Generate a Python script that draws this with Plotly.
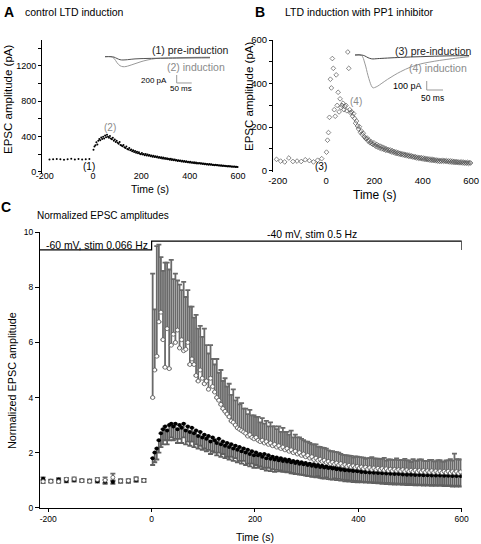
import plotly.graph_objects as go

# ---------------- data ----------------
# Panel A: control LTD induction (EPSC amplitude, pA)
T_PRE_A = [-180, -165, -150, -135, -120, -105, -90, -75, -60, -45, -30, -15]
A_PRE = [138, 140, 144, 141, 136, 142, 146, 138, 143, 137, 141, 145]
T_POST = list(range(2, 600, 4))
A_POST = [
    250, 285, 300, 335, 310, 350, 372, 358, 388, 370,
    398, 378, 412, 392, 418, 398, 386, 404, 378, 368,
    384, 352, 366, 338, 352, 328, 318, 336, 304, 298,
    288, 302, 278, 268, 286, 258, 252, 270, 244, 252,
    232, 242, 224, 234, 214, 226, 208, 220, 204, 198,
    212, 194, 202, 188, 200, 184, 194, 180, 190, 176,
    184, 170, 180, 166, 176, 164, 172, 158, 168, 156,
    164, 150, 160, 148, 156, 144, 152, 140, 148, 136,
    146, 134, 140, 130, 138, 126, 134, 122, 130, 120,
    128, 116, 124, 114, 120, 110, 118, 106, 114, 104,
    112, 102, 108, 98, 106, 96, 104, 94, 100, 92,
    98, 90, 96, 86, 94, 84, 90, 82, 88, 80,
    86, 78, 84, 76, 80, 74, 78, 72, 76, 70,
    74, 68, 72, 66, 70, 64, 68, 62, 66, 60,
    64, 58, 62, 56, 60, 55, 58, 53, 56, 52,
]

# Panel B: LTD induction with PP1 inhibitor (pA)
T_PRE_B = [-205, -188, -171, -154, -137, -120, -103, -86, -69, -52, -35, -18]
B_PRE = [52, 44, 40, 58, 42, 44, 42, 50, 46, 40, 48, 55]
B_POST = [
    85, 140, 175, 245, 420, 380, 515, 470, 280, 250,
    440, 300, 360, 270, 330, 290, 300, 310, 280, 295,
    300, 275, 545, 470, 280, 265, 270, 250, 262, 240,
    218, 228, 205, 192, 202, 176, 182, 166, 172, 156,
    150, 146, 150, 136, 140, 128, 133, 124, 120, 128,
    118, 112, 120, 108, 115, 104, 112, 100, 108, 98,
    104, 94, 100, 92, 97, 90, 95, 86, 92, 84,
    88, 80, 86, 78, 83, 76, 80, 74, 78, 72,
    76, 70, 74, 68, 72, 66, 70, 64, 68, 63,
    66, 60, 64, 58, 62, 57, 61, 55, 60, 54,
    58, 52, 57, 51, 55, 50, 54, 48, 53, 47,
    52, 46, 50, 45, 49, 44, 48, 42, 47, 43,
    48, 43, 47, 42, 46, 41, 45, 40, 45, 39,
    44, 38, 43, 37, 42, 37, 41, 36, 40, 36,
    40, 35, 39, 34, 38, 34, 38, 33, 37, 35,
]

# Inset traces (ms, pA)
INSET_A_T = [0, 20, 30, 40, 50, 60, 70, 80, 100, 120, 140, 170, 200, 250, 300, 350]
INSET_A_PRE = [0, 0, -10, -45, -75, -82, -78, -70, -55, -48, -44, -40, -38, -34, -30, -27]
INSET_A_IND = [0, 0, -40, -150, -225, -250, -245, -225, -175, -125, -85, -45, -32, -22, -17, -13]
INSET_B_T = [0, 20, 30, 40, 50, 55, 60, 70, 80, 100, 120, 140, 170, 200, 230, 260, 300, 350]
INSET_B_PRE = [0, 0, -10, -30, -42, -44, -43, -40, -38, -34, -30, -27, -22, -19, -15, -12, -9, -6]
INSET_B_IND = [0, -5, -90, -230, -340, -365, -362, -345, -320, -270, -225, -185, -135, -100, -78, -60, -40, -18]
SCALE_A = dict(pA=200, ms=50, t0=239, y0=-657)
SCALE_B = dict(pA=100, ms=50, t0=220, y0=-389)

# Panel C: normalized EPSC amplitudes
T_PRE_C = [-210, -195, -180, -165, -150, -135, -120, -105, -90, -75, -60, -45, -30, -15]
OPEN_PRE = [0.95, 0.96, 0.95, 1.03, 1.04, 0.98, 0.96, 1.02, 1.0, 1.1, 0.97, 0.98, 1.04, 0.99]
OPEN_PRE_ERR = [0.06, 0.05, 0.05, 0.05, 0.06, 0.05, 0.05, 0.06, 0.1, 0.14, 0.07, 0.06, 0.07, 0.06]
BLACK_PRE = [1.05, 0.98, 1.02, 0.97, 1.0, 0.99, 0.98, 0.96, 0.94, 0.93, 0.97, 0.96, 1.0, 1.0]
BLACK_PRE_ERR = [0.05, 0.04, 0.05, 0.05, 0.05, 0.04, 0.05, 0.05, 0.07, 0.06, 0.05, 0.06, 0.06, 0.05]
OPEN_POST = [
    4.0, 5.0, 5.5, 6.75, 7.1, 6.1, 5.1, 6.5, 5.05, 5.9,
    6.3, 6.0, 6.45, 5.8, 6.1, 5.7, 5.75, 6.0, 5.2, 5.4,
    5.2, 4.8, 4.6, 5.0, 4.7, 4.5, 4.6, 4.3, 4.7, 4.4,
    4.2, 4.0, 3.9, 3.75, 3.6, 3.5, 3.4, 3.3, 3.15, 3.1,
    3.0, 2.9, 2.85, 2.8, 2.75, 2.7, 2.6, 2.65, 2.55, 2.5,
    2.55, 2.45, 2.4, 2.45, 2.35, 2.4, 2.3, 2.35, 2.25, 2.3,
    2.2, 2.25, 2.15, 2.2, 2.1, 2.15, 2.05, 2.1, 2.0, 2.05,
    1.95, 2.0, 1.9, 1.95, 1.85, 1.9, 1.8, 1.85, 1.75, 1.8,
    1.72, 1.76, 1.68, 1.72, 1.64, 1.68, 1.6, 1.65, 1.58, 1.62,
    1.55, 1.6, 1.52, 1.56, 1.5, 1.54, 1.48, 1.52, 1.46, 1.5,
    1.44, 1.48, 1.42, 1.47, 1.4, 1.45, 1.39, 1.44, 1.38, 1.43,
    1.37, 1.42, 1.36, 1.41, 1.35, 1.4, 1.34, 1.39, 1.34, 1.38,
    1.33, 1.38, 1.32, 1.37, 1.32, 1.36, 1.31, 1.36, 1.3, 1.35,
    1.3, 1.35, 1.29, 1.34, 1.29, 1.34, 1.28, 1.33, 1.28, 1.33,
    1.27, 1.32, 1.27, 1.32, 1.26, 1.31, 1.26, 1.31, 1.25, 1.3,
]
OPEN_ERR = [
    4.5, 2.2, 4.0, 2.8, 2.0, 2.5, 3.8, 2.4, 3.6, 3.1,
    2.0, 2.5, 1.8, 2.3, 1.8, 2.5, 1.9, 1.9, 2.1, 1.9,
    1.7, 2.2, 1.9, 1.6, 1.5, 2.0, 1.3, 1.3, 1.2, 1.0,
    1.0, 1.4, 1.0, 1.25, 1.0, 1.2, 1.0, 1.2, 0.95, 1.2,
    0.9, 1.1, 0.9, 1.0, 0.85, 0.9, 0.8, 0.9, 0.8, 0.85,
    0.75, 0.85, 0.7, 0.8, 0.7, 0.75, 0.65, 0.75, 0.7, 0.65,
    0.65, 0.7, 0.6, 0.7, 0.65, 0.6, 0.6, 0.7, 0.55, 0.6,
    0.6, 0.55, 0.6, 0.5, 0.55, 0.5, 0.55, 0.45, 0.55, 0.5,
    0.5, 0.45, 0.5, 0.45, 0.5, 0.4, 0.45, 0.4, 0.45, 0.4,
    0.45, 0.35, 0.4, 0.35, 0.4, 0.35, 0.4, 0.3, 0.4, 0.35,
    0.4, 0.35, 0.4, 0.3, 0.4, 0.35, 0.45, 0.35, 0.4, 0.35,
    0.4, 0.35, 0.45, 0.3, 0.4, 0.35, 0.4, 0.35, 0.45, 0.35,
    0.4, 0.35, 0.45, 0.35, 0.4, 0.3, 0.45, 0.35, 0.4, 0.4,
    0.45, 0.35, 0.4, 0.35, 0.45, 0.4, 0.4, 0.35, 0.45, 0.4,
    0.4, 0.35, 0.45, 0.4, 0.5, 0.4, 0.7, 0.45, 0.5, 0.45,
]
BLACK_POST = [
    1.8, 2.0, 2.15, 2.45, 2.7, 2.85, 2.95, 2.8, 3.0, 3.05,
    2.95, 3.05, 2.85, 3.0, 2.9, 3.05, 2.8, 2.95, 2.75, 2.9,
    2.7, 2.8, 2.6, 2.75, 2.55, 2.65, 2.5, 2.6, 2.4, 2.55,
    2.45, 2.35, 2.5, 2.3, 2.4, 2.25, 2.35, 2.2, 2.3, 2.15,
    2.25, 2.1, 2.2, 2.05, 2.15, 2.0, 2.1, 1.95, 2.05, 1.9,
    2.0, 1.9, 1.95, 1.85, 1.95, 1.8, 1.9, 1.78, 1.85, 1.75,
    1.82, 1.72, 1.8, 1.7, 1.76, 1.68, 1.74, 1.65, 1.7, 1.62,
    1.68, 1.6, 1.65, 1.58, 1.62, 1.55, 1.6, 1.52, 1.58, 1.5,
    1.55, 1.48, 1.52, 1.46, 1.5, 1.44, 1.48, 1.42, 1.46, 1.4,
    1.45, 1.38, 1.42, 1.36, 1.4, 1.35, 1.38, 1.33, 1.37, 1.32,
    1.36, 1.3, 1.35, 1.29, 1.34, 1.28, 1.33, 1.27, 1.32, 1.26,
    1.31, 1.25, 1.3, 1.24, 1.3, 1.23, 1.29, 1.22, 1.28, 1.22,
    1.27, 1.21, 1.27, 1.2, 1.26, 1.2, 1.25, 1.19, 1.25, 1.19,
    1.24, 1.18, 1.24, 1.18, 1.23, 1.17, 1.23, 1.17, 1.22, 1.17,
    1.22, 1.16, 1.21, 1.16, 1.21, 1.15, 1.2, 1.15, 1.2, 1.15,
]
BLACK_ERR = [
    0.25, 0.35, 0.4, 0.45, 0.5, 0.55, 0.5, 0.5, 0.55, 0.5,
    0.5, 0.55, 0.5, 0.5, 0.55, 0.5, 0.5, 0.55, 0.5, 0.5,
    0.5, 0.5, 0.45, 0.5, 0.45, 0.5, 0.45, 0.5, 0.45, 0.5,
    0.45, 0.45, 0.5, 0.45, 0.45, 0.45, 0.5, 0.45, 0.45, 0.45,
    0.45, 0.45, 0.5, 0.45, 0.45, 0.45, 0.5, 0.45, 0.45, 0.45,
    0.45, 0.45, 0.45, 0.45, 0.5, 0.45, 0.45, 0.45, 0.45, 0.45,
    0.45, 0.4, 0.45, 0.4, 0.45, 0.4, 0.45, 0.4, 0.45, 0.4,
    0.45, 0.4, 0.45, 0.4, 0.45, 0.4, 0.45, 0.4, 0.45, 0.4,
    0.4, 0.4, 0.45, 0.4, 0.4, 0.4, 0.45, 0.4, 0.4, 0.4,
    0.4, 0.4, 0.4, 0.4, 0.4, 0.4, 0.4, 0.4, 0.4, 0.4,
    0.4, 0.38, 0.4, 0.38, 0.4, 0.38, 0.4, 0.38, 0.4, 0.38,
    0.4, 0.38, 0.4, 0.38, 0.4, 0.38, 0.4, 0.38, 0.4, 0.38,
    0.4, 0.38, 0.4, 0.38, 0.4, 0.38, 0.4, 0.38, 0.4, 0.38,
    0.4, 0.38, 0.4, 0.38, 0.4, 0.38, 0.4, 0.38, 0.4, 0.38,
    0.4, 0.38, 0.4, 0.38, 0.4, 0.38, 0.4, 0.38, 0.4, 0.38,
]
BRACKET_T = [-216, 0, 0, 600, 600]
BRACKET_Y = [9.36, 9.36, 9.68, 9.68, 9.36]

# ---------------- figure ----------------
W, H = 481, 544
FONT = "Liberation Sans, Arial, Helvetica, sans-serif"


def px(x):
    return x / W


def py(y):
    return 1 - y / H


fig = go.Figure()

# Panel A
fig.add_trace(go.Scatter(x=T_PRE_A + T_POST, y=A_PRE + A_POST, mode="markers",
                         marker=dict(size=2, color="black"), xaxis="x", yaxis="y"))
# Panel B
fig.add_trace(go.Scatter(x=T_PRE_B + T_POST, y=B_PRE + B_POST, mode="markers",
                         marker=dict(size=3.6, symbol="diamond-open", color="#555",
                                     line=dict(width=0.7)), xaxis="x2", yaxis="y2"))
# Insets
fig.add_trace(go.Scatter(x=INSET_A_T, y=INSET_A_IND, mode="lines", line=dict(color="#9a9a9a", width=1, shape="spline"),
                         xaxis="x4", yaxis="y4"))
fig.add_trace(go.Scatter(x=INSET_A_T, y=INSET_A_PRE, mode="lines", line=dict(color="#555", width=1, shape="spline"),
                         xaxis="x4", yaxis="y4"))
fig.add_trace(go.Scatter(x=INSET_B_T, y=INSET_B_IND, mode="lines", line=dict(color="#9a9a9a", width=1, shape="spline"),
                         xaxis="x5", yaxis="y5"))
fig.add_trace(go.Scatter(x=INSET_B_T, y=INSET_B_PRE, mode="lines", line=dict(color="#444", width=1, shape="spline"),
                         xaxis="x5", yaxis="y5"))
for sc, xa, ya in [(SCALE_A, "x4", "y4"), (SCALE_B, "x5", "y5")]:
    fig.add_trace(go.Scatter(x=[sc["t0"], sc["t0"], sc["t0"] + sc["ms"]],
                             y=[sc["y0"] + sc["pA"], sc["y0"], sc["y0"]],
                             mode="lines", line=dict(color="#999", width=1), xaxis=xa, yaxis=ya))

# Panel C
c_t = T_PRE_C + T_POST
open_y = OPEN_PRE + OPEN_POST
black_y = BLACK_PRE + BLACK_POST
zeros = [0] * len(T_POST)
fig.add_trace(go.Scatter(x=c_t, y=open_y, mode="markers", marker=dict(size=1, color="rgba(0,0,0,0)"),
                         error_y=dict(type="data", symmetric=False, array=OPEN_PRE_ERR + OPEN_ERR,
                                      arrayminus=OPEN_PRE_ERR + zeros, color="#6a6a6a", thickness=1.8, width=2.5),
                         xaxis="x3", yaxis="y3"))
fig.add_trace(go.Scatter(x=c_t, y=black_y, mode="markers", marker=dict(size=1, color="rgba(0,0,0,0)"),
                         error_y=dict(type="data", symmetric=False, array=BLACK_PRE_ERR + zeros,
                                      arrayminus=BLACK_PRE_ERR + BLACK_ERR, color="#606060", thickness=1.8, width=2.5),
                         xaxis="x3", yaxis="y3"))
fig.add_trace(go.Scatter(x=c_t, y=black_y, mode="markers", marker=dict(size=4, color="black"),
                         xaxis="x3", yaxis="y3"))
fig.add_trace(go.Scatter(x=c_t, y=open_y, mode="markers",
                         marker=dict(size=4, color="white", line=dict(color="#555", width=0.8)),
                         xaxis="x3", yaxis="y3"))
fig.add_trace(go.Scatter(x=BRACKET_T, y=BRACKET_Y, mode="lines", line=dict(color="black", width=1.2),
                         xaxis="x3", yaxis="y3"))

common = dict(showgrid=False, zeroline=False, automargin=False)
axis_line = dict(showline=True, linecolor="black", linewidth=1, ticks="outside", tickcolor="black", tickwidth=1)

fig.update_layout(
    width=W, height=H, margin=dict(l=0, r=0, t=0, b=0), template="none",
    paper_bgcolor="white", plot_bgcolor="rgba(0,0,0,0)", showlegend=False,
    font=dict(family=FONT, color="black"),
    xaxis=dict(domain=[px(42), px(240)], range=[-211, 608], anchor="free", position=py(169),
               showline=False, ticks="", tickvals=[-200, 0, 200, 400, 600],
               ticktext=["-200", "0", "200", "400", "600"], tickfont=dict(size=9), **common),
    yaxis=dict(domain=[py(173.9), py(40.4)], range=[-25, 1490], anchor="x",
               tickvals=[0, 200, 400, 600, 800, 1000, 1200, 1400],
               ticktext=["0", "", "400", "", "800", "", "1200", ""], ticklen=3,
               tickfont=dict(size=9), **axis_line, **common),
    xaxis2=dict(domain=[px(273), px(473)], range=[-219.5, 608], anchor="free", position=py(173.5),
                showline=False, ticks="", tickvals=[-200, 0, 200, 400, 600],
                ticktext=["-200", "0", "200", "400", "600"], tickfont=dict(size=9.5), **common),
    yaxis2=dict(domain=[py(172.4), py(39.6)], range=[-8, 602], anchor="x2",
                tickvals=[0, 100, 200, 300, 400, 500, 600],
                ticktext=["0", "", "200", "", "400", "", "600"], ticklen=3,
                tickfont=dict(size=9.5), **axis_line, **common),
    xaxis3=dict(domain=[px(40), px(461.7)], range=[-216, 600], anchor="y3",
                tickvals=[-200, 0, 200, 400, 600], ticktext=["-200", "0", "200", "400", "600"],
                ticklen=3, tickfont=dict(size=8.5), **axis_line, **common),
    yaxis3=dict(domain=[py(507.7), py(232.3)], range=[0, 10], anchor="x3",
                tickvals=[0, 2, 4, 6, 8, 10], ticklen=4, tickfont=dict(size=8.5), **axis_line, **common),
    xaxis4=dict(domain=[px(100), px(240)], range=[-16.67, 450], anchor="y4", visible=False),
    yaxis4=dict(domain=[py(100), py(40)], range=[-1082.5, 417.5], anchor="x4", visible=False),
    xaxis5=dict(domain=[px(340), px(480)], range=[-46.01, 383.44], anchor="y5", visible=False),
    yaxis5=dict(domain=[py(100), py(40)], range=[-500, 166.67], anchor="x5", visible=False),
)


def text(x, y, s, size, color="black", anchor="center", angle=0, bold=False):
    fig.add_annotation(x=px(x), y=py(y), xref="paper", yref="paper", text=f"<b>{s}</b>" if bold else s,
                       showarrow=False, xanchor=anchor, yanchor="middle", textangle=angle,
                       font=dict(size=size, color=color, family=FONT))


GRAY = "#8a8a8a"
# titles
text(9, 12, "A", 14, bold=True)
text(23, 12, "control LTD induction", 10.5, anchor="left")
text(260, 12, "B", 14, bold=True)
text(283, 12, "LTD induction with PP1 inhibitor", 10.5, anchor="left")
text(6, 207, "C", 14, bold=True)
text(35, 215, "Normalized EPSC amplitudes", 10, anchor="left")
# axis titles
text(8, 100, "EPSC amplitude (pA)", 11.5, angle=-90)
text(150, 189, "Time (s)", 10.5)
text(249, 97, "EPSC amplitude (pA)", 11.5, angle=-90)
text(374.5, 195, "Time (s)", 12)
text(12, 381, "Normalized EPSC amplitude", 10.8, angle=-90)
text(255, 537, "Time (s)", 10.5)
# inset labels
text(190.5, 50, "(1) pre-induction", 10.5, color="#222")
text(196, 67, "(2) induction", 10.5, color=GRAY)
text(154, 80, "200 pA", 8)
text(181, 88.5, "50 ms", 8)
text(433.5, 51, "(3) pre-induction", 10.5, color="#222")
text(437.5, 68, "(4) induction", 10.5, color=GRAY)
text(407, 86, "100 pA", 9)
text(432, 98, "50 ms", 8.5)
# point labels
text(89, 166, "(1)", 10)
text(109.5, 127.5, "(2)", 10, color=GRAY)
text(321, 166, "(3)", 10)
text(356, 101, "(4)", 10, color=GRAY)
# bracket labels
text(96.7, 245, "-60 mV, stim 0.066 Hz", 10.4)
text(312.3, 234, "-40 mV, stim 0.5 Hz", 10.4)

fig.write_html("out.html", config={"displayModeBar": False},
               post_script="document.body.style.margin='0';document.body.style.overflow='hidden';")
